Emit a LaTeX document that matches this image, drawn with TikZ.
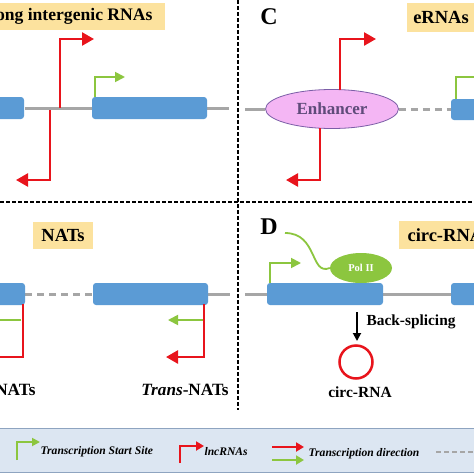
\documentclass[tikz,border=0pt]{standalone}
\usepackage{fontspec}
\setmainfont{Liberation Serif}
\usetikzlibrary{arrows.meta,shapes.geometric}
\definecolor{gene}{HTML}{5B9BD5}
\definecolor{lred}{HTML}{E8141C}
\definecolor{tss}{HTML}{8CC63F}
\definecolor{bbone}{HTML}{A6A6A6}
\definecolor{lab}{HTML}{FCE29E}
\definecolor{leg}{HTML}{DCE6F2}
\definecolor{legline}{HTML}{8EA4C0}
\definecolor{enh}{HTML}{F4B6F4}
\definecolor{enhb}{HTML}{7B5EA7}
\definecolor{enht}{HTML}{5F4B7A}
\begin{document}
\begin{tikzpicture}[x=1pt,y=-1pt,
  exon/.style={fill=gene,rounded corners=3pt},
  bbsolid/.style={draw=bbone,line width=3pt},
  bbdash/.style={draw=bbone,line width=3pt,dash pattern=on 7pt off 5pt},
  lnc/.style={draw=lred,line width=2.5pt,-{Triangle[length=12pt,width=13pt]}},
  tssarr/.style={draw=tss,line width=1.8pt,-{Triangle[length=10pt,width=10pt]}},
  divider/.style={draw=black,line width=1.2pt,dash pattern=on 4pt off 2pt},
  labbox/.style={fill=lab},
  ttl/.style={font=\bfseries\fontsize{18.5}{20}\selectfont},
  plab/.style={font=\bfseries\fontsize{24}{26}\selectfont},
  legtxt/.style={font=\bfseries\itshape\fontsize{11.6}{13}\selectfont,anchor=west},
]
\useasboundingbox (0,0) rectangle (474,474);
\clip (0,0) rectangle (474,474);
\fill[white] (0,0) rectangle (474,474);

% dividers
\coordinate (dvT) at (238,0); \coordinate (dvB) at (238,410);
\coordinate (dhL) at (0,202); \coordinate (dhR) at (474,202);
\draw[divider] (dvT) -- (dvB);
\draw[divider] (dhL) -- (dhR);

% ---------- Panel A ----------
\fill[labbox] (-40,3) rectangle (165,30);
\node[font=\bfseries\fontsize{17.6}{19}\selectfont,anchor=east] (tA) at (156,16) {Long intergenic RNAs};
\coordinate (a0) at (25,108); \coordinate (a1) at (229,108);
\draw[bbsolid] (a0) -- (a1);
\fill[exon] (-10,97) rectangle (24,119);
\fill[exon] (92,97) rectangle (207,119);
\coordinate (ar1) at (60,108); \coordinate (ar2) at (94,39);
\draw[lnc] (ar1) |- (ar2);
\coordinate (ad1) at (50,110); \coordinate (ad2) at (16,180);
\draw[lnc] (ad1) |- (ad2);
\coordinate (ag1) at (95,97); \coordinate (ag2) at (125,77);
\draw[tssarr] (ag1) |- (ag2);

% ---------- Panel C ----------
\node[plab] (pC) at (269,17) {C};
\fill[labbox] (407,3) rectangle (480,32);
\node[ttl] (tC) at (441,17) {eRNAs};
\coordinate (c0) at (245,109);
\coordinate (c1) at (451,109);
\node[ellipse,draw=enhb,fill=enh,line width=0.8pt,minimum width=133pt,minimum height=39pt,inner sep=0pt,
      font=\bfseries\fontsize{17}{19}\selectfont,text=enht] (enh) at (332,109) {Enhancer};
\draw[bbsolid] (c0) -- (enh.west);
\draw[bbdash] (enh.east) -- (c1);
\fill[exon] (451,99) rectangle (485,120);
\coordinate (cg1) at (456,99); \coordinate (cg2) at (490,77);
\draw[tssarr] (cg1) |- (cg2);
\coordinate (cr1) at (340,90); \coordinate (cr2) at (376,39);
\draw[lnc] (cr1) |- (cr2);
\coordinate (cd1) at (320,128); \coordinate (cd2) at (286,180);
\draw[lnc] (cd1) |- (cd2);

% ---------- Panel B ----------
\fill[labbox] (33,222) rectangle (93,249);
\node[ttl] (tB) at (63,235) {NATs};
\coordinate (b0) at (25,294); \coordinate (b1) at (93,294);
\coordinate (b2) at (208,294); \coordinate (b3) at (230,294);
\draw[bbdash] (b0) -- (b1);
\draw[bbsolid] (b2) -- (b3);
\fill[exon] (-10,283) rectangle (25,305);
\fill[exon] (93,283) rectangle (208,305);
\coordinate (bl1) at (23,304); \coordinate (bl2) at (-12,357);
\draw[lnc] (bl1) |- (bl2);
\coordinate (bg1) at (21,320); \coordinate (bg2) at (-12,320);
\draw[tssarr] (bg1) -- (bg2);
\coordinate (br1) at (204,304); \coordinate (br2) at (166,357);
\draw[lnc] (br1) |- (br2);
\coordinate (brg1) at (203,320); \coordinate (brg2) at (168,320);
\draw[tssarr] (brg1) -- (brg2);
\node[font=\bfseries\fontsize{17.2}{19}\selectfont,anchor=east] (cisn) at (39,390) {\textit{Cis}-NATs};
\node[font=\bfseries\fontsize{17.2}{19}\selectfont] (transn) at (185,390) {\textit{Trans}-NATs};

% ---------- Panel D ----------
\node[plab] (pD) at (269,227) {D};
\fill[labbox] (399,221) rectangle (480,249);
\node[ttl,anchor=west] (tD) at (404,235) {circ-RNAs};
\coordinate (d0) at (245,294); \coordinate (d1) at (267,294);
\coordinate (d2) at (383,294); \coordinate (d3) at (451,294);
\draw[bbsolid] (d0) -- (d1);
\draw[bbsolid] (d2) -- (d3);
\fill[exon] (267,283) rectangle (383,305);
\fill[exon] (451,283) rectangle (485,305);
\coordinate (dg1) at (270,283); \coordinate (dg2) at (301,263);
\draw[tssarr] (dg1) |- (dg2);
\node[ellipse,fill=tss,minimum width=62pt,minimum height=30pt,inner sep=0pt,
      text=white,font=\bfseries\fontsize{10.5}{12}\selectfont] (pol) at (361,268) {Pol II};
\coordinate (cv0) at (285,233);
\draw[tss,line width=1.8pt] (cv0) .. controls (318,233) and (310,276) .. (pol.west);
\coordinate (bs1) at (357,312); \coordinate (bs2) at (357,341);
\draw[line width=1.8pt,-{Triangle[length=8pt,width=8pt]}] (bs1) -- (bs2);
\node[font=\bfseries\fontsize{15.4}{17}\selectfont,anchor=west] (bsl) at (363,322) {Back-splicing};
\node[circle,draw=lred,line width=2.5pt,minimum size=33pt,inner sep=0pt] (circ) at (356,362) {};
\node[font=\bfseries\fontsize{15.5}{17}\selectfont] (circl) at (360,392) {circ-RNA};

% ---------- Legend ----------
\fill[leg] (0,428) rectangle (474,472);
\coordinate (lg0) at (0,428); \coordinate (lg1) at (474,428);
\coordinate (lg2) at (0,472); \coordinate (lg3) at (474,472);
\draw[legline,line width=1pt] (lg0) -- (lg1);
\draw[legline,line width=1pt] (lg2) -- (lg3);
\coordinate (lt1) at (17,460); \coordinate (lt2) at (40,442);
\draw[tss,line width=1.8pt,-{Triangle[length=8pt,width=8pt]}] (lt1) |- (lt2);
\node[legtxt] (l1) at (37,452) {Transcription Start Site};
\coordinate (lr1) at (180,463); \coordinate (lr2) at (204,446);
\draw[lred,line width=2pt,-{Triangle[length=8pt,width=9pt]}] (lr1) |- (lr2);
\node[legtxt] (l2) at (201,452) {lncRNAs};
\coordinate (ld1) at (272,447); \coordinate (ld2) at (304,447);
\draw[lred,line width=2pt,-{Triangle[length=8pt,width=9pt]}] (ld1) -- (ld2);
\coordinate (ld3) at (272,460); \coordinate (ld4) at (304,460);
\draw[tss,line width=2pt,-{Triangle[length=8pt,width=9pt]}] (ld3) -- (ld4);
\node[legtxt] (l3) at (305,454) {Transcription direction};
\coordinate (lx1) at (436,452); \coordinate (lx2) at (480,452);
\draw[bbone,line width=2pt,dash pattern=on 5pt off 3pt] (lx1) -- (lx2);
\end{tikzpicture}
\end{document}
